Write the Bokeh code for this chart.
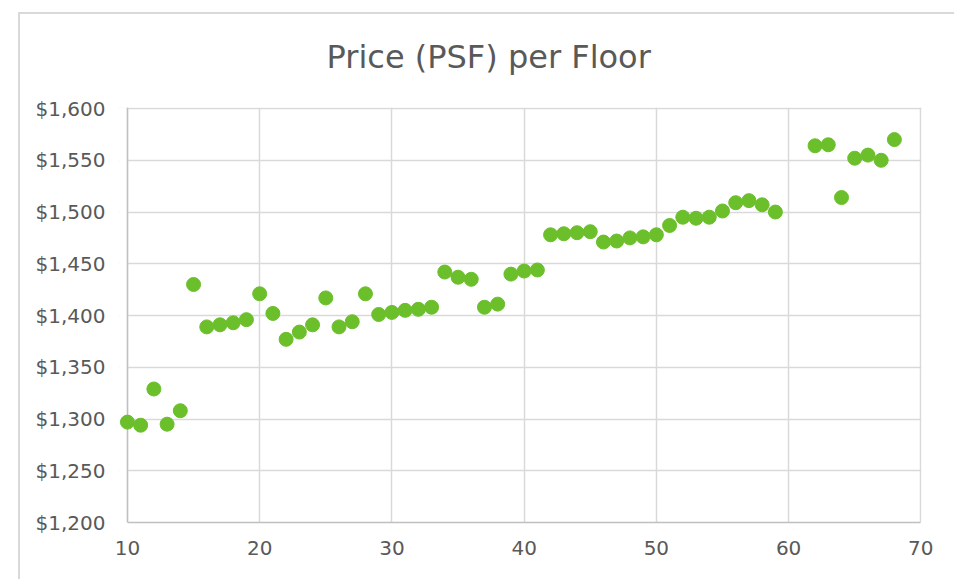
from bokeh.plotting import figure
from bokeh.models import (Range1d, FixedTicker, NumeralTickFormatter, Span,
                          BoxAnnotation, ColumnDataSource, InlineStyleSheet)
from bokeh.embed import file_html
from bokeh.resources import INLINE

# Floor number and average price per square foot
floors = [10, 11, 12, 13, 14, 15, 16, 17, 18, 19,
          20, 21, 22, 23, 24, 25, 26, 27, 28, 29,
          30, 31, 32, 33, 34, 35, 36, 37, 38, 39,
          40, 41, 42, 43, 44, 45, 46, 47, 48, 49,
          50, 51, 52, 53, 54, 55, 56, 57, 58, 59,
          62, 63, 64, 65, 66, 67, 68]
prices = [1297, 1294, 1329, 1295, 1308, 1430, 1389, 1391, 1393, 1396,
          1421, 1402, 1377, 1384, 1391, 1417, 1389, 1394, 1421, 1401,
          1403, 1405, 1406, 1408, 1442, 1437, 1435, 1408, 1411, 1440,
          1443, 1444, 1478, 1479, 1480, 1481, 1471, 1472, 1475, 1476,
          1478, 1487, 1495, 1494, 1495, 1501, 1509, 1511, 1507, 1500,
          1564, 1565, 1514, 1552, 1555, 1550, 1570]

x_ticks = [10, 20, 30, 40, 50, 60, 70]
y_ticks = [1200, 1250, 1300, 1350, 1400, 1450, 1500, 1550, 1600]
title_text = "Price (PSF) per Floor"

TEXT = "#595959"
GRID = "#d9d9d9"
AXIS = "#bfbfbf"
GREEN = "#6bbf2b"
FONT = "DejaVu Sans"

src = ColumnDataSource(data=dict(floor=floors, price=prices))

# the x range starts a little before 10 so the first marker is not cut in half
p = figure(output_backend="svg", toolbar_location=None,
           frame_width=802, frame_height=415,
           min_border_left=119, min_border_right=33,
           min_border_top=107, min_border_bottom=57,
           x_range=Range1d(9.4, 70.05), y_range=Range1d(1200, 1601))
p.outline_line_color = None
p.background_fill_color = "white"
p.border_fill_color = "white"

p.title.text = title_text
p.title.align = "left"
p.title.offset = 207
p.title.standoff = 63
p.title.text_color = TEXT
p.title.text_font = FONT
p.title.text_font_size = "32px"
p.title.text_font_style = "normal"

p.xaxis.ticker = FixedTicker(ticks=x_ticks)
p.yaxis.ticker = FixedTicker(ticks=y_ticks)
p.yaxis.formatter = NumeralTickFormatter(format="$0,0")
p.xaxis.bounds = (10, 70)

for ax in (p.xaxis[0], p.yaxis[0]):
    ax.major_tick_in = 0
    ax.major_tick_out = 0
    ax.minor_tick_in = 0
    ax.minor_tick_out = 0
    ax.major_label_text_color = TEXT
    ax.major_label_text_font = FONT
    ax.major_label_text_font_size = "20px"
p.xaxis.axis_line_color = AXIS
p.xaxis.axis_line_width = 1.5
p.xaxis.major_label_standoff = 18
p.yaxis.axis_line_color = None
p.yaxis.major_label_standoff = 14

p.xgrid.grid_line_color = GRID
p.ygrid.grid_line_color = GRID
p.xgrid.grid_line_width = 1.5
p.ygrid.grid_line_width = 1.5

# blank strip left of the value axis, then the axis line itself
strip = BoxAnnotation(right=10, fill_color="white", fill_alpha=1.0,
                      line_color=None, level="underlay")
p.add_layout(strip)
p.add_layout(Span(location=10, dimension="height", line_color=AXIS,
                  line_width=1.5, level="underlay"))

p.scatter("floor", "price", source=src, size=14,
          fill_color=GREEN, line_color=GREEN, line_width=1)

# chart area border along the left and top edges
p.stylesheets = [InlineStyleSheet(css="""
:host { position: relative; overflow: hidden; }
:host::after {
  content: ""; position: absolute; left: 18px; top: 12px; right: -10px; bottom: -10px;
  border-left: 2px solid #d9d9d9; border-top: 2px solid #d9d9d9;
  pointer-events: none;
}
""")]

open("out.html", "w").write(file_html(p, INLINE))
